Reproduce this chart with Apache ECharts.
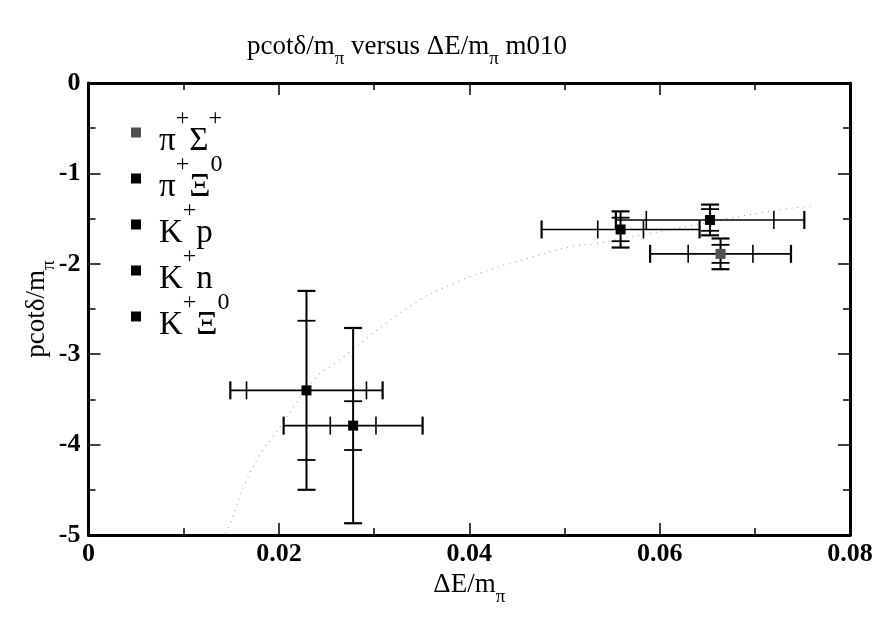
<!DOCTYPE html>
<html>
<head>
<meta charset="utf-8">
<script src="https://cdn.jsdelivr.net/npm/echarts@6/dist/echarts.min.js"></script>
<style>
  html, body { margin: 0; padding: 0; background: #fff; }
  #chart { width: 879px; height: 617px; }
</style>
</head>
<body>
<div id="chart"></div>
<script>
// Channels: name pieces (base, superscript, base, superscript)
const legendParts = [
  ['π', '+', 'Σ', '+'],
  ['π', '+', 'Ξ', '0'],
  ['K', '+', 'p', ''],
  ['K', '+', 'n', ''],
  ['K', '+', 'Ξ', '0']
];
const seriesNames = ['π+Σ+', 'π+Ξ0', 'K+p', 'K+n', 'K+Ξ0'];
const markerColors = ['#505050', '#000000', '#000000', '#000000', '#000000'];

// ΔE/mπ and pcotδ/mπ with inner and outer uncertainties
const xValues   = [0.0664, 0.0653, 0.0559, 0.0229, 0.0278];
const yValues   = [-1.89, -1.515, -1.62, -3.40, -3.79];
const xErrOuter = [0.0074, 0.0099, 0.0083, 0.0080, 0.0073];
const xErrInner = [0.0034, 0.0067, 0.0024, 0.0063, 0.0024];
const yErrOuter = [0.17, 0.17, 0.20, 1.10, 1.08];
const yErrInner = [0.10, 0.12, 0.13, 0.77, 0.27];

// Dotted reference curve
const curveX = [0.0144, 0.0149, 0.0165, 0.0183, 0.0192, 0.0238, 0.0259, 0.0342, 0.0381, 0.0412, 0.0455, 0.0507, 0.0531, 0.0709, 0.0760];
const curveY = [-4.98, -4.87, -4.42, -4.06, -3.94, -3.27, -3.10, -2.44, -2.23, -2.10, -1.96, -1.81, -1.78, -1.43, -1.36];

const xMin = 0, xMax = 0.08, xStep = 0.02;
const yMin = -5, yMax = 0, yStep = 1;

const SERIF = "'Liberation Serif', 'DejaVu Serif', serif";

const chart = echarts.init(document.getElementById('chart'), null, { renderer: 'canvas' });

function legendLabel(name) {
  const p = legendParts[seriesNames.indexOf(name)];
  let s = '{b|' + p[0] + '}{s|' + p[1] + '}{b|' + p[2] + '}';
  if (p[3]) s += '{s|' + p[3] + '}';
  return s;
}

// text with a lowered π, as in "m_π"
const subRich = {
  n: { fontFamily: SERIF, fontSize: 27, fontWeight: 'normal', color: '#000', lineHeight: 44, verticalAlign: 'middle' },
  u: { fontFamily: SERIF, fontSize: 19, fontWeight: 'normal', color: '#000', verticalAlign: 'bottom' }
};

function errorBarItem(params, api) {
  const x = api.value(0), y = api.value(1);
  const xo = api.value(2), xi = api.value(3), yo = api.value(4), yi = api.value(5);
  const c = api.coord([x, y]);
  const xl = api.coord([x - xo, y])[0], xr = api.coord([x + xo, y])[0];
  const xil = api.coord([x - xi, y])[0], xir = api.coord([x + xi, y])[0];
  const yt = api.coord([x, y + yo])[1], yb = api.coord([x, y - yo])[1];
  const yit = api.coord([x, y + yi])[1], yib = api.coord([x, y - yi])[1];
  const cap = 9;
  const seg = (x1, y1, x2, y2, w) => ({
    type: 'line',
    shape: { x1, y1, x2, y2 },
    style: { stroke: '#000', lineWidth: w, lineCap: 'butt' }
  });
  return {
    type: 'group',
    children: [
      seg(xl, c[1], xr, c[1], 1.6),
      seg(c[0], yt, c[0], yb, 2),
      seg(xl, c[1] - cap, xl, c[1] + cap, 2.2),
      seg(xr, c[1] - cap, xr, c[1] + cap, 2.2),
      seg(xil, c[1] - cap, xil, c[1] + cap, 1.6),
      seg(xir, c[1] - cap, xir, c[1] + cap, 1.6),
      seg(c[0] - cap, yt, c[0] + cap, yt, 2.2),
      seg(c[0] - cap, yb, c[0] + cap, yb, 2.2),
      seg(c[0] - cap, yit, c[0] + cap, yit, 1.8),
      seg(c[0] - cap, yib, c[0] + cap, yib, 1.8)
    ]
  };
}

const axisLine = { show: true, onZero: false, lineStyle: { color: '#000', width: 3 } };
const majorTick = { show: true, inside: true, length: 12, lineStyle: { color: '#000', width: 1.5 } };
const minorTick = { show: true, splitNumber: 2, length: 7, lineStyle: { color: '#000', width: 1.5 } };
const tickLabel = { color: '#000', fontFamily: SERIF, fontWeight: 'bold', fontSize: 26 };

const errorData = xValues.map((x, i) => [x, yValues[i], xErrOuter[i], xErrInner[i], yErrOuter[i], yErrInner[i]]);

const option = {
  backgroundColor: '#fff',
  animation: false,
  title: {
    text: '{n|pcotδ/m}{u|π}{n| versus ΔE/m}{u|π}{n| m010}',
    left: 242,
    top: 20,
    textStyle: { fontWeight: 'normal', rich: subRich }
  },
  legend: {
    data: seriesNames.map(n => ({ name: n, icon: 'rect' })),
    orient: 'vertical',
    left: 131,
    top: 107,
    padding: 0,
    itemWidth: 10,
    itemHeight: 10,
    itemGap: -5,
    selectedMode: false,
    formatter: legendLabel,
    textStyle: {
      padding: [0, 0, 0, 13],
      rich: {
        b: { fontFamily: SERIF, fontSize: 33, color: '#000', lineHeight: 51, verticalAlign: 'bottom' },
        s: { fontFamily: SERIF, fontSize: 24, color: '#000', verticalAlign: 'top' }
      }
    }
  },
  grid: { left: 88.5, right: 29, top: 83, bottom: 82, containLabel: false, outerBoundsMode: 'none' },
  xAxis: [
    {
      type: 'value', min: xMin, max: xMax, interval: xStep, position: 'bottom',
      axisLine, axisTick: majorTick, minorTick,
      splitLine: { show: false },
      axisLabel: Object.assign({ margin: 6, formatter: v => (v === 0 ? '0' : v.toFixed(2)) }, tickLabel),
      name: '{n|ΔE/m}{u|π}',
      nameLocation: 'middle',
      nameGap: 28,
      nameMoveOverlap: false,
      nameTextStyle: { rich: subRich }
    },
    {
      type: 'value', min: xMin, max: xMax, interval: xStep, position: 'top',
      axisLine, axisTick: majorTick, minorTick,
      splitLine: { show: false },
      axisLabel: { show: false }
    }
  ],
  yAxis: [
    {
      type: 'value', min: yMin, max: yMax, interval: yStep, position: 'left',
      axisLine, axisTick: majorTick, minorTick,
      splitLine: { show: false },
      axisLabel: Object.assign({ margin: 8 }, tickLabel),
      name: '{n|pcotδ/m}{u|π}',
      nameLocation: 'middle',
      nameRotate: 90,
      nameGap: 30,
      nameMoveOverlap: false,
      nameTextStyle: { rich: subRich }
    },
    {
      type: 'value', min: yMin, max: yMax, interval: yStep, position: 'right',
      axisLine, axisTick: majorTick, minorTick,
      splitLine: { show: false },
      axisLabel: { show: false }
    }
  ],
  series: [
    {
      type: 'line',
      xAxisIndex: 0, yAxisIndex: 0,
      data: curveX.map((x, i) => [x, curveY[i]]),
      smooth: true,
      showSymbol: false,
      silent: true,
      lineStyle: { color: '#a8a8a8', width: 1.2, type: [1, 5] },
      z: 1
    },
    {
      type: 'custom',
      xAxisIndex: 0, yAxisIndex: 0,
      renderItem: errorBarItem,
      data: errorData,
      silent: true,
      z: 2
    }
  ].concat(seriesNames.map((name, i) => ({
    type: 'scatter',
    name,
    xAxisIndex: 0, yAxisIndex: 0,
    data: [[xValues[i], yValues[i]]],
    symbol: 'rect',
    symbolSize: 10,
    itemStyle: { color: markerColors[i], opacity: 1 },
    z: 3
  })))
};

chart.setOption(option);
</script>
</body>
</html>
